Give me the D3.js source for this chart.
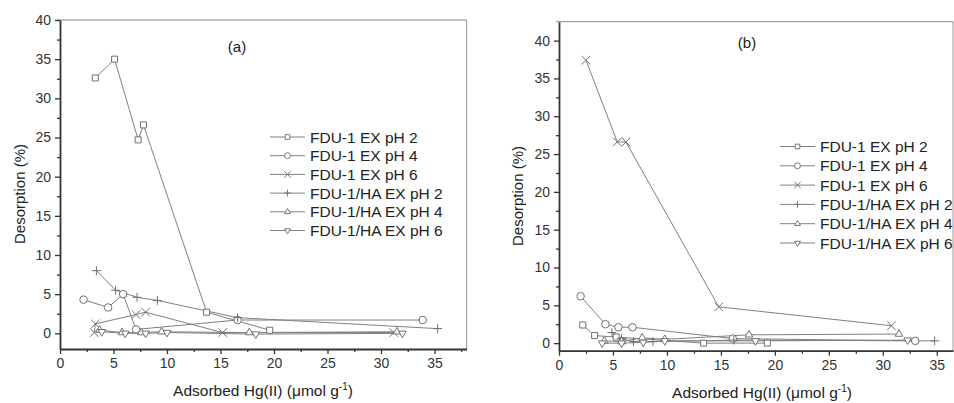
<!DOCTYPE html>
<html>
<head>
<meta charset="utf-8">
<script src="https://cdn.jsdelivr.net/npm/d3@7"></script>
<style>
  body { margin: 0; background: #fff; }
  svg { font-family: "Liberation Sans", Arial, sans-serif; }
</style>
</head>
<body>
<svg id="chart" width="954" height="403"></svg>
<script>
// series names, same for both panels
const seriesNames = ["FDU-1 EX pH 2", "FDU-1 EX pH 4", "FDU-1 EX pH 6",
                     "FDU-1/HA EX pH 2", "FDU-1/HA EX pH 4", "FDU-1/HA EX pH 6"];
const xTicks = [0, 5, 10, 15, 20, 25, 30, 35];
const yTicks = [0, 5, 10, 15, 20, 25, 30, 35, 40];

// panel (a) : [adsorbed, desorption]
const a_ph2 = [[3.3, 32.6], [5.1, 35.0], [7.3, 24.7], [7.8, 26.6], [13.7, 2.7], [19.6, 0.4]];
const a_ph4 = [[2.2, 4.3], [4.5, 3.3], [5.9, 5.0], [7.1, 0.5], [16.6, 1.7], [33.9, 1.7]];
const a_ph6 = [[3.2, 0.1], [3.3, 1.2], [7.1, 2.4], [8.0, 2.7], [15.2, 0.1], [31.2, 0.1]];
const a_ha2 = [[3.4, 8.0], [5.2, 5.5], [7.2, 4.6], [9.1, 4.2], [16.6, 2.0], [35.3, 0.6]];
const a_ha4 = [[3.7, 0.4], [5.8, 0.1], [7.6, 0.1], [9.5, 0.2], [17.7, 0.1], [31.5, 0.2]];
const a_ha6 = [[3.9, 0.2], [6.1, 0.0], [8.0, 0.0], [10.0, 0.1], [18.3, -0.1], [32.0, 0.0]];

// panel (b)
const b_ph2 = [[2.2, 2.4], [3.3, 1.0], [5.3, 0.8], [13.4, 0.0], [19.3, 0.0]];
const b_ph4 = [[2.0, 6.2], [4.3, 2.5], [5.5, 2.1], [6.8, 2.1], [16.1, 0.6], [33.0, 0.3]];
const b_ph6 = [[2.5, 37.4], [5.4, 26.6], [6.2, 26.6], [14.8, 4.8], [30.8, 2.3]];
const b_ha2 = [[4.9, 1.4], [5.8, 0.6], [6.9, 0.2], [8.7, 0.2], [16.2, 0.4], [34.8, 0.3]];
const b_ha4 = [[4.2, 0.3], [5.8, 0.2], [7.7, 0.7], [9.8, 0.5], [17.6, 1.1], [31.5, 1.2]];
const b_ha6 = [[4.0, 0.0], [5.8, 0.0], [7.8, 0.1], [9.8, 0.3], [18.2, 0.3], [32.3, 0.4]];

const lineCol = "#808080";
const axisCol = "#333";

const symbols = [
    {type: d3.symbolSquare, size: 36, fill: "#fff", rot: 0},
    {type: d3.symbolCircle, size: 45, fill: "#fff", rot: 0},
    {type: d3.symbolTimes, size: 50, fill: "none", rot: 0},
    {type: d3.symbolPlus, size: 28, fill: "none", rot: 0},
    {type: d3.symbolTriangle2, size: 42, fill: "#fff", rot: 0},
    {type: d3.symbolTriangle2, size: 42, fill: "#fff", rot: 180}
];

const svg = d3.select("#chart");

function drawPanel(opt) {
    const x = d3.scaleLinear().domain(opt.xDomain).range(opt.xRange);
    const y = d3.scaleLinear().domain(opt.yDomain).range(opt.yRange);
    const g = svg.append("g");

    // frame top / right
    g.append("line")
        .attr("x1", opt.xRange[0] - 3).attr("x2", opt.frameRight)
        .attr("y1", opt.yRange[1]).attr("y2", opt.yRange[1])
        .attr("stroke", "#888").attr("stroke-width", 1);
    g.append("line")
        .attr("x1", opt.frameRight).attr("x2", opt.frameRight)
        .attr("y1", opt.yRange[1]).attr("y2", opt.yRange[0])
        .attr("stroke", "#999").attr("stroke-width", 1);

    // series
    opt.series.forEach((data, i) => {
        g.append("path")
            .datum(data)
            .attr("fill", "none")
            .attr("stroke", lineCol)
            .attr("stroke-width", 1)
            .attr("d", d3.line().x(d => x(d[0])).y(d => y(d[1])));
    });
    opt.series.forEach((data, i) => {
        const s = symbols[i];
        g.selectAll(null)
            .data(data)
            .join("path")
            .attr("transform", d => `translate(${x(d[0])},${y(d[1])}) rotate(${s.rot})`)
            .attr("d", d3.symbol().type(s.type).size(s.size))
            .attr("fill", s.fill)
            .attr("stroke", "#707070")
            .attr("stroke-width", 1);
    });

    // axes
    const minorX = d3.range(2.5, opt.xDomain[1], 5);
    const minorY = d3.range(-2.5, opt.yDomain[1], 5).filter(v => v >= opt.yDomain[0]);

    g.append("g")
        .attr("transform", `translate(0,${opt.yRange[0]})`)
        .call(d3.axisBottom(x).tickValues(xTicks).tickSize(5).tickSizeOuter(0).tickPadding(4));
    g.append("g")
        .attr("transform", `translate(0,${opt.yRange[0]})`)
        .call(d3.axisBottom(x).tickValues(minorX).tickSize(3).tickSizeOuter(0).tickFormat(""))
        .select(".domain").remove();

    g.append("g")
        .attr("transform", `translate(${opt.xRange[0]},0)`)
        .call(d3.axisLeft(y).tickValues(yTicks).tickSize(5).tickSizeOuter(0).tickPadding(4));
    g.append("g")
        .attr("transform", `translate(${opt.xRange[0]},0)`)
        .call(d3.axisLeft(y).tickValues(minorY).tickSize(3).tickSizeOuter(0).tickFormat(""))
        .select(".domain").remove();

    g.selectAll(".domain").attr("stroke", axisCol).attr("stroke-width", 1.8);
    g.selectAll(".tick line").attr("stroke", axisCol).attr("stroke-width", 1.3);
    g.selectAll(".tick text")
        .attr("fill", "#333")
        .style("font-size", "14px")
        .style("font-family", "\"Liberation Sans\", Arial, sans-serif");

    // axis titles
    g.append("text")
        .attr("transform", `translate(${opt.yTitleX},${opt.yTitleY}) rotate(-90)`)
        .attr("text-anchor", "middle")
        .attr("fill", "#222")
        .style("font-size", "15px")
        .text("Desorption (%)");

    const xt = g.append("text")
        .attr("x", opt.xTitleX).attr("y", opt.xTitleY)
        .attr("text-anchor", "middle")
        .attr("fill", "#222")
        .style("font-size", "15.5px");
    xt.append("tspan").text("Adsorbed Hg(II) (\u03bcmol g");
    xt.append("tspan").attr("dy", -6).style("font-size", "10px").text("-1");
    xt.append("tspan").attr("dy", 6).text(")");

    // panel label
    g.append("text")
        .attr("x", opt.labelX).attr("y", opt.labelY)
        .attr("text-anchor", "middle")
        .attr("fill", "#222")
        .style("font-size", "15px")
        .text(opt.label);

    // legend
    const leg = g.append("g")
        .attr("transform", `translate(${opt.legX},${opt.legY})`);
    seriesNames.forEach((name, i) => {
        const s = symbols[i];
        const item = leg.append("g").attr("transform", `translate(0,${i * opt.legStep})`);
        item.append("line")
            .attr("x1", 0).attr("x2", 35)
            .attr("y1", 0).attr("y2", 0)
            .attr("stroke", lineCol).attr("stroke-width", 1);
        item.append("path")
            .attr("transform", `translate(17.5,0) rotate(${s.rot})`)
            .attr("d", d3.symbol().type(s.type).size(s.size * 0.6))
            .attr("fill", "#fff")
            .attr("stroke", "#777");
        item.append("text")
            .attr("x", 40).attr("y", 5.5)
            .attr("fill", "#222")
            .style("font-size", "15.5px")
            .text(name);
    });
}

drawPanel({
    xDomain: [0, 38], xRange: [60, 466.6],
    yDomain: [-2, 40], yRange: [349, 20],
    frameRight: 466.6,
    series: [a_ph2, a_ph4, a_ph6, a_ha2, a_ha4, a_ha6],
    yTitleX: 25, yTitleY: 194,
    xTitleX: 263, xTitleY: 396,
    label: "(a)", labelX: 237, labelY: 52,
    legX: 270, legY: 137, legStep: 18.7
});

drawPanel({
    xDomain: [0, 36.5], xRange: [559, 953],
    yDomain: [-1, 42.5], yRange: [350.7, 21.7],
    frameRight: 953,
    series: [b_ph2, b_ph4, b_ph6, b_ha2, b_ha4, b_ha6],
    yTitleX: 523, yTitleY: 196,
    xTitleX: 762, xTitleY: 398,
    label: "(b)", labelX: 747, labelY: 48,
    legX: 780, legY: 146.5, legStep: 19.3
});
</script>
</body>
</html>
